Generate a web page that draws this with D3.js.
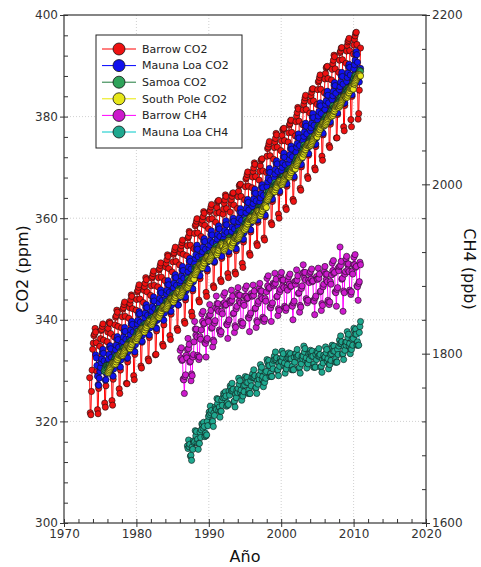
<!DOCTYPE html>
<html>
<head>
<meta charset="utf-8">
<script src="https://cdnjs.cloudflare.com/ajax/libs/d3/7.8.5/d3.min.js"></script>
<style>
  body { margin: 0; background: #fff; }
  text { font-family: "DejaVu Sans", sans-serif; }
</style>
</head>
<body>
<svg id="chart" width="481" height="567"></svg>
<script>
// Series mensuales. Cada "...Start" es [año, mes] de la primera muestra.
const barrowCO2Start = [1973, 7];
const barrowCO2 = [
  328.6, 321.7, 321.3, 325.9, 330.1, 334.2,
  335.4, 336.9, 337.2, 338.3, 337.6, 335.5, 329.8, 322.3, 321.5, 326.5, 331.2, 334.8,
  336.3, 337.9, 338.1, 338.7, 339.2, 336.0, 330.1, 323.6, 322.8, 327.0, 331.6, 335.7,
  337.6, 338.3, 339.4, 339.6, 339.3, 337.3, 331.5, 324.1, 323.2, 328.3, 332.9, 336.6,
  339.0, 340.5, 340.8, 341.9, 341.5, 338.7, 332.8, 326.4, 325.5, 330.1, 334.8, 338.4,
  340.6, 342.1, 342.4, 343.0, 343.5, 340.7, 334.0, 327.5, 327.4, 331.7, 335.9, 340.3,
  342.4, 343.2, 343.9, 344.9, 344.6, 342.2, 336.4, 329.0, 328.2, 333.2, 337.4, 341.9,
  344.0, 345.5, 345.8, 346.4, 346.9, 344.1, 337.4, 330.9, 330.5, 335.6, 339.3, 343.4,
  345.8, 346.5, 347.2, 348.3, 347.9, 345.5, 339.6, 332.3, 331.9, 336.5, 341.1, 344.8,
  346.7, 348.2, 348.5, 349.1, 349.6, 346.8, 340.5, 333.1, 333.2, 337.8, 342.0, 346.5,
  348.3, 349.8, 350.1, 350.7, 351.2, 348.4, 342.6, 335.2, 334.8, 339.0, 343.6, 347.7,
  350.4, 351.1, 351.8, 352.8, 352.5, 350.1, 343.8, 336.9, 336.1, 341.1, 345.7, 349.4,
  351.4, 352.9, 353.2, 353.8, 354.3, 351.5, 345.2, 338.3, 337.9, 342.9, 346.7, 350.8,
  353.2, 353.9, 354.6, 355.2, 355.7, 352.9, 346.6, 339.7, 339.3, 343.9, 348.1, 352.6,
  354.6, 356.1, 356.4, 357.4, 357.1, 354.7, 348.9, 341.5, 340.7, 345.7, 349.9, 354.0,
  357.0, 358.5, 358.8, 359.4, 359.9, 357.1, 350.8, 343.9, 343.5, 348.1, 352.7, 356.4,
  358.9, 359.6, 360.3, 361.3, 361.0, 358.6, 352.3, 345.4, 344.6, 349.6, 353.8, 357.9,
  359.8, 361.3, 361.6, 362.2, 362.7, 359.9, 353.6, 346.7, 346.3, 351.3, 355.1, 359.2,
  361.0, 362.1, 363.2, 363.4, 363.5, 361.1, 355.2, 347.9, 347.5, 352.1, 356.3, 360.8,
  361.8, 362.9, 363.6, 364.6, 364.3, 361.9, 355.6, 349.1, 348.3, 352.9, 357.1, 361.2,
  362.9, 363.6, 364.3, 364.9, 365.0, 362.6, 356.3, 349.4, 349.0, 353.6, 358.2, 361.9,
  364.2, 365.3, 366.4, 366.6, 366.7, 364.3, 358.0, 351.1, 350.3, 355.3, 359.5, 363.6,
  366.2, 367.7, 368.0, 368.6, 369.1, 366.3, 360.0, 353.1, 352.7, 357.3, 361.5, 366.0,
  368.1, 369.2, 369.9, 370.9, 370.6, 368.2, 361.9, 355.0, 354.6, 359.2, 363.8, 367.5,
  369.2, 370.3, 371.4, 371.6, 371.7, 369.3, 363.0, 356.1, 355.7, 360.3, 364.5, 369.0,
  372.2, 373.7, 374.0, 374.6, 375.1, 372.3, 366.0, 359.1, 358.7, 363.3, 367.5, 371.6,
  373.9, 375.0, 375.7, 376.7, 376.4, 374.0, 367.7, 360.8, 360.0, 365.0, 369.2, 373.3,
  375.2, 376.3, 377.4, 377.6, 377.7, 375.3, 369.0, 362.1, 361.7, 366.3, 370.5, 375.0,
  376.8, 378.3, 378.6, 379.2, 379.3, 376.9, 370.6, 363.7, 363.3, 367.9, 372.1, 376.2,
  379.0, 380.1, 380.8, 381.8, 381.5, 379.1, 372.8, 365.9, 365.5, 370.1, 374.3, 378.4,
  381.3, 382.4, 383.1, 383.7, 384.2, 381.4, 375.1, 368.2, 367.8, 372.4, 376.6, 380.7,
  383.0, 384.1, 384.8, 385.4, 385.5, 383.1, 376.8, 369.9, 369.5, 374.1, 378.3, 382.4,
  385.3, 386.8, 387.1, 387.7, 388.2, 385.4, 379.1, 372.2, 371.4, 376.4, 380.6, 384.7,
  387.4, 388.5, 389.6, 389.8, 389.9, 387.5, 381.6, 374.3, 373.9, 378.5, 382.7, 387.2,
  389.3, 390.4, 391.1, 392.1, 391.8, 389.4, 383.1, 375.8, 375.8, 380.4, 385.0, 388.7,
  391.1, 392.6, 392.9, 393.5, 393.6, 391.2, 384.9, 378.0, 377.2, 382.2, 386.4, 390.5,
  392.9, 394.0, 394.7, 395.0, 395.4, 393.0, 386.7, 379.4, 378.0, 384.0, 388.2, 392.3,
  394.1, 395.2, 395.9, 396.5, 396.6, 394.2, 387.9, 379.5, 380.6, 385.2, 389.4, 393.5
];

const maunaLoaCO2Start = [1974, 5];
const maunaLoaCO2 = [
  333.1, 332.5, 331.0, 328.9, 327.2, 327.1, 328.5, 329.8,
  330.6, 331.6, 332.3, 333.5, 334.2, 333.4, 331.9, 329.8, 328.1, 328.2, 329.4, 330.7,
  331.7, 332.3, 333.2, 334.6, 334.9, 334.3, 332.6, 330.7, 329.0, 328.9, 330.3, 331.6,
  333.3, 334.1, 335.0, 336.2, 336.7, 336.1, 334.6, 332.5, 330.8, 330.7, 332.1, 333.4,
  335.1, 335.7, 336.6, 337.8, 338.5, 337.7, 336.2, 334.1, 332.4, 332.5, 333.7, 335.0,
  336.3, 337.1, 338.0, 339.2, 339.7, 339.1, 337.6, 335.5, 333.8, 333.7, 335.1, 336.4,
  338.2, 339.2, 339.9, 341.1, 341.6, 341.2, 339.5, 337.4, 335.7, 335.8, 337.0, 338.3,
  339.6, 340.4, 341.3, 342.5, 343.0, 342.4, 340.9, 338.8, 337.1, 337.0, 338.4, 339.7,
  341.1, 341.7, 342.6, 343.8, 344.5, 343.7, 342.2, 340.1, 338.4, 338.3, 339.9, 341.0,
  342.5, 343.3, 344.2, 345.4, 345.9, 345.3, 343.8, 341.7, 340.0, 339.9, 341.3, 342.6,
  344.1, 345.1, 345.8, 347.0, 347.7, 346.9, 345.4, 343.3, 341.6, 341.7, 342.9, 344.2,
  345.5, 346.3, 347.2, 348.4, 348.9, 348.3, 346.8, 344.7, 343.0, 342.9, 344.3, 345.6,
  347.1, 347.7, 348.6, 349.8, 350.5, 349.7, 348.2, 346.1, 344.4, 344.5, 345.7, 347.0,
  348.7, 349.5, 350.4, 351.6, 352.1, 351.5, 350.0, 347.9, 346.2, 346.1, 347.5, 348.8,
  351.1, 352.1, 352.8, 354.0, 354.7, 353.9, 352.4, 350.3, 348.6, 348.7, 349.9, 351.2,
  352.6, 353.4, 354.3, 355.5, 356.0, 355.4, 353.9, 351.8, 350.1, 350.0, 351.4, 352.7,
  354.1, 354.7, 355.6, 356.8, 357.5, 356.7, 355.2, 353.1, 351.4, 351.5, 352.7, 354.0,
  355.1, 355.9, 356.8, 358.0, 358.5, 357.9, 356.4, 354.3, 352.6, 352.5, 353.9, 355.2,
  355.9, 356.9, 357.6, 358.8, 359.5, 358.7, 357.2, 355.1, 353.4, 353.5, 354.7, 356.0,
  356.6, 357.4, 358.3, 359.5, 360.0, 359.4, 357.9, 355.8, 354.1, 354.0, 355.4, 356.7,
  358.3, 359.3, 360.0, 361.2, 361.9, 361.1, 359.6, 357.5, 355.8, 355.9, 357.1, 358.4,
  360.3, 361.1, 362.0, 363.2, 363.7, 363.1, 361.6, 359.5, 357.8, 357.7, 359.1, 360.4,
  362.3, 362.9, 363.8, 365.0, 365.7, 364.9, 363.4, 361.3, 359.6, 359.7, 360.9, 362.2,
  363.2, 364.0, 364.9, 366.1, 366.6, 366.0, 364.5, 362.4, 360.7, 360.6, 362.0, 363.3,
  366.2, 367.2, 367.9, 369.1, 369.8, 369.0, 367.5, 365.4, 363.7, 363.8, 365.0, 366.3,
  367.9, 368.7, 369.6, 370.8, 371.3, 370.7, 369.2, 367.1, 365.4, 365.3, 366.7, 368.0,
  369.4, 370.0, 370.9, 372.1, 372.8, 372.0, 370.5, 368.4, 366.7, 366.8, 368.0, 369.3,
  370.8, 371.6, 372.5, 373.7, 374.2, 373.6, 372.1, 370.0, 368.3, 368.2, 369.6, 370.9,
  373.0, 374.0, 374.7, 375.9, 376.6, 375.8, 374.3, 372.2, 370.5, 370.6, 371.8, 373.1,
  375.3, 376.1, 377.0, 378.2, 378.7, 378.1, 376.6, 374.5, 372.8, 372.7, 374.1, 375.4,
  377.2, 377.8, 378.7, 379.9, 380.6, 379.8, 378.3, 376.2, 374.5, 374.6, 375.8, 377.1,
  379.3, 380.1, 381.0, 382.2, 382.7, 382.1, 380.6, 378.5, 376.8, 376.7, 378.1, 379.4,
  381.4, 382.4, 383.1, 384.3, 385.0, 384.2, 382.7, 380.6, 378.9, 379.0, 380.2, 381.5,
  383.3, 384.1, 385.0, 386.2, 386.7, 386.1, 384.6, 382.5, 380.8, 380.7, 382.1, 383.4,
  385.3, 385.9, 386.8, 388.0, 388.7, 387.9, 386.4, 384.3, 382.6, 382.7, 383.9, 385.2,
  386.9, 387.7, 388.6, 389.8, 390.3, 389.7, 388.2, 386.1, 384.4, 384.3, 385.7, 387.0,
  389.4, 390.2, 391.1, 392.3, 392.8, 392.2, 390.7, 388.6, 386.9, 386.8, 388.2, 389.5
];

const samoaCO2Start = [1975, 7];
const samoaCO2 = [
  329.9, 330.2, 330.6, 330.9, 331.0, 331.0,
  330.6, 331.0, 330.8, 331.1, 330.7, 330.4, 330.8, 331.3, 331.5, 331.6, 331.9, 332.1,
  332.4, 332.8, 332.6, 332.9, 332.5, 332.2, 332.6, 333.1, 333.3, 333.4, 333.9, 333.7,
  334.0, 334.4, 334.2, 334.5, 334.1, 333.8, 334.2, 334.7, 334.9, 335.0, 335.5, 335.3,
  335.4, 335.8, 335.6, 335.9, 335.5, 335.2, 335.6, 336.1, 336.3, 336.4, 336.9, 336.7,
  337.3, 337.7, 337.5, 337.8, 337.4, 337.1, 337.5, 338.0, 338.2, 338.3, 338.8, 338.6,
  338.9, 339.1, 338.7, 339.2, 339.0, 338.5, 338.9, 339.2, 339.6, 339.9, 340.2, 340.0,
  340.0, 340.4, 340.2, 340.5, 340.1, 339.8, 340.2, 340.7, 340.9, 341.0, 341.5, 341.3,
  341.6, 342.2, 341.8, 341.9, 341.7, 341.6, 341.8, 342.3, 342.7, 342.6, 342.9, 342.9,
  343.2, 343.6, 343.4, 343.7, 343.3, 343.0, 343.4, 343.9, 344.1, 344.2, 344.7, 344.5,
  344.8, 345.0, 344.6, 345.1, 344.9, 344.4, 344.8, 345.1, 345.5, 345.8, 346.1, 345.9,
  345.7, 346.1, 345.9, 346.2, 345.8, 345.5, 345.9, 346.4, 346.6, 346.7, 347.2, 347.0,
  347.5, 348.1, 347.7, 347.8, 347.6, 347.5, 347.7, 348.2, 348.6, 348.5, 348.8, 348.8,
  349.9, 350.3, 350.1, 350.4, 350.0, 349.7, 350.1, 350.6, 350.8, 350.9, 351.4, 351.2,
  351.6, 351.8, 351.4, 351.9, 351.7, 351.2, 351.6, 351.9, 352.3, 352.6, 352.9, 352.7,
  352.7, 353.1, 352.9, 353.2, 352.8, 352.5, 352.9, 353.4, 353.6, 353.7, 354.2, 354.0,
  353.9, 354.5, 354.1, 354.2, 354.0, 353.9, 354.1, 354.6, 355.0, 354.9, 355.2, 355.2,
  354.7, 355.1, 354.9, 355.2, 354.8, 354.5, 354.9, 355.4, 355.6, 355.7, 356.2, 356.0,
  355.6, 355.8, 355.4, 355.9, 355.7, 355.2, 355.6, 355.9, 356.3, 356.6, 356.9, 356.7,
  357.1, 357.5, 357.3, 357.6, 357.2, 356.9, 357.3, 357.8, 358.0, 358.1, 358.6, 358.4,
  359.1, 359.7, 359.3, 359.4, 359.2, 359.1, 359.3, 359.8, 360.2, 360.1, 360.4, 360.4,
  360.6, 361.0, 360.8, 361.1, 360.7, 360.4, 360.8, 361.3, 361.5, 361.6, 362.1, 361.9,
  361.9, 362.1, 361.7, 362.2, 362.0, 361.5, 361.9, 362.2, 362.6, 362.9, 363.2, 363.0,
  364.7, 365.1, 364.9, 365.2, 364.8, 364.5, 364.9, 365.4, 365.6, 365.7, 366.2, 366.0,
  366.4, 367.0, 366.6, 366.7, 366.5, 366.4, 366.6, 367.1, 367.5, 367.4, 367.7, 367.7,
  367.7, 368.1, 367.9, 368.2, 367.8, 367.5, 367.9, 368.4, 368.6, 368.7, 369.2, 369.0,
  369.5, 369.7, 369.3, 369.8, 369.6, 369.1, 369.5, 369.8, 370.2, 370.5, 370.8, 370.6,
  371.5, 371.9, 371.7, 372.0, 371.6, 371.3, 371.7, 372.2, 372.4, 372.5, 373.0, 372.8,
  373.8, 374.4, 374.0, 374.1, 373.9, 373.8, 374.0, 374.5, 374.9, 374.8, 375.1, 375.1,
  375.5, 375.9, 375.7, 376.0, 375.6, 375.3, 375.7, 376.2, 376.4, 376.5, 377.0, 376.8,
  378.0, 378.2, 377.8, 378.3, 378.1, 377.6, 378.0, 378.3, 378.7, 379.0, 379.3, 379.1,
  379.6, 380.0, 379.8, 380.1, 379.7, 379.4, 379.8, 380.3, 380.5, 380.6, 381.1, 380.9,
  381.5, 382.1, 381.7, 381.8, 381.6, 381.5, 381.7, 382.2, 382.6, 382.5, 382.8, 382.8,
  383.3, 383.7, 383.5, 383.8, 383.4, 383.1, 383.5, 384.0, 384.2, 384.3, 384.8, 384.6,
  385.3, 385.5, 385.1, 385.6, 385.4, 384.9, 385.3, 385.6, 386.0, 386.3, 386.6, 386.4,
  387.6, 388.0, 387.8, 388.1, 387.7, 387.4, 387.8, 388.3, 388.5, 388.6, 389.1, 388.9
];

const southPoleCO2Start = [1976, 1];
const southPoleCO2 = [
  329.6, 329.6, 329.9, 330.2, 330.5, 330.8, 331.1, 331.3, 331.5, 331.5, 331.4, 331.2,
  331.5, 331.3, 331.7, 332.1, 332.2, 332.6, 333.0, 333.1, 333.2, 333.4, 333.2, 332.9,
  333.0, 333.0, 333.3, 333.6, 333.9, 334.2, 334.5, 334.7, 334.9, 334.9, 334.8, 334.6,
  334.5, 334.3, 334.7, 335.1, 335.2, 335.6, 336.0, 336.1, 336.2, 336.4, 336.2, 335.9,
  336.3, 336.3, 336.6, 336.9, 337.2, 337.5, 337.8, 338.0, 338.2, 338.2, 338.1, 337.9,
  337.8, 337.6, 338.0, 338.4, 338.5, 338.9, 339.3, 339.4, 339.5, 339.7, 339.5, 339.2,
  339.0, 339.0, 339.3, 339.6, 339.9, 340.2, 340.5, 340.7, 340.9, 340.9, 340.8, 340.6,
  340.7, 340.5, 340.9, 341.3, 341.4, 341.8, 342.2, 342.3, 342.4, 342.6, 342.4, 342.1,
  342.2, 342.2, 342.5, 342.8, 343.1, 343.4, 343.7, 343.9, 344.1, 344.1, 344.0, 343.8,
  343.7, 343.5, 343.9, 344.3, 344.4, 344.8, 345.2, 345.3, 345.4, 345.6, 345.4, 345.1,
  344.7, 344.7, 345.0, 345.3, 345.6, 345.9, 346.2, 346.4, 346.6, 346.6, 346.5, 346.3,
  346.6, 346.4, 346.8, 347.2, 347.3, 347.7, 348.1, 348.2, 348.3, 348.5, 348.3, 348.0,
  348.9, 348.9, 349.2, 349.5, 349.8, 350.1, 350.4, 350.6, 350.8, 350.8, 350.7, 350.5,
  350.5, 350.3, 350.7, 351.1, 351.2, 351.6, 352.0, 352.1, 352.2, 352.4, 352.2, 351.9,
  351.7, 351.7, 352.0, 352.3, 352.6, 352.9, 353.2, 353.4, 353.6, 353.6, 353.5, 353.3,
  353.0, 352.8, 353.2, 353.6, 353.7, 354.1, 354.5, 354.6, 354.7, 354.9, 354.7, 354.4,
  353.7, 353.7, 354.0, 354.3, 354.6, 354.9, 355.2, 355.4, 355.6, 355.6, 355.5, 355.3,
  354.5, 354.3, 354.7, 355.1, 355.2, 355.6, 356.0, 356.1, 356.2, 356.4, 356.2, 355.9,
  356.1, 356.1, 356.4, 356.7, 357.0, 357.3, 357.6, 357.8, 358.0, 358.0, 357.9, 357.7,
  358.2, 358.0, 358.4, 358.8, 358.9, 359.3, 359.7, 359.8, 359.9, 360.1, 359.9, 359.6,
  359.5, 359.5, 359.8, 360.1, 360.4, 360.7, 361.0, 361.2, 361.4, 361.4, 361.3, 361.1,
  360.7, 360.5, 360.9, 361.3, 361.4, 361.8, 362.2, 362.3, 362.4, 362.6, 362.4, 362.1,
  363.6, 363.6, 363.9, 364.2, 364.5, 364.8, 365.1, 365.3, 365.5, 365.5, 365.4, 365.2,
  365.4, 365.2, 365.6, 366.0, 366.1, 366.5, 366.9, 367.0, 367.1, 367.3, 367.1, 366.8,
  366.6, 366.6, 366.9, 367.2, 367.5, 367.8, 368.1, 368.3, 368.5, 368.5, 368.4, 368.2,
  368.3, 368.1, 368.5, 368.9, 369.0, 369.4, 369.8, 369.9, 370.0, 370.2, 370.0, 369.7,
  370.4, 370.4, 370.7, 371.0, 371.3, 371.6, 371.9, 372.1, 372.3, 372.3, 372.2, 372.0,
  372.8, 372.6, 373.0, 373.4, 373.5, 373.9, 374.3, 374.4, 374.5, 374.7, 374.5, 374.2,
  374.4, 374.4, 374.7, 375.0, 375.3, 375.6, 375.9, 376.1, 376.3, 376.3, 376.2, 376.0,
  376.8, 376.6, 377.0, 377.4, 377.5, 377.9, 378.3, 378.4, 378.5, 378.7, 378.5, 378.2,
  378.4, 378.4, 378.7, 379.0, 379.3, 379.6, 379.9, 380.1, 380.3, 380.3, 380.2, 380.0,
  380.4, 380.2, 380.6, 381.0, 381.1, 381.5, 381.9, 382.0, 382.1, 382.3, 382.1, 381.8,
  382.1, 382.1, 382.4, 382.7, 383.0, 383.3, 383.6, 383.8, 384.0, 384.0, 383.9, 383.7,
  384.0, 383.8, 384.2, 384.6, 384.7, 385.1, 385.5, 385.6, 385.7, 385.9, 385.7, 385.4,
  386.4, 386.4, 386.7, 387.0, 387.3, 387.6, 387.9, 388.1, 388.3, 388.3, 388.2, 388.0
];

const barrowCH4Start = [1986, 1];
const barrowCH4 = [
  1804, 1795, 1807, 1792, 1793, 1770, 1769, 1753, 1773, 1775, 1798, 1795,
  1805, 1818, 1806, 1811, 1790, 1791, 1768, 1776, 1774, 1796, 1799, 1814,
  1838, 1829, 1822, 1829, 1820, 1798, 1796, 1793, 1796, 1820, 1817, 1828,
  1847, 1838, 1850, 1835, 1836, 1813, 1812, 1796, 1816, 1818, 1841, 1838,
  1845, 1858, 1846, 1851, 1830, 1831, 1808, 1816, 1814, 1836, 1839, 1854,
  1868, 1859, 1852, 1859, 1850, 1828, 1826, 1823, 1826, 1850, 1847, 1858,
  1869, 1860, 1872, 1857, 1858, 1835, 1834, 1818, 1838, 1840, 1863, 1860,
  1862, 1875, 1863, 1868, 1847, 1848, 1825, 1833, 1831, 1853, 1856, 1871,
  1878, 1869, 1862, 1869, 1860, 1838, 1836, 1833, 1836, 1860, 1857, 1868,
  1877, 1868, 1880, 1865, 1866, 1843, 1842, 1826, 1846, 1848, 1871, 1868,
  1868, 1881, 1869, 1874, 1853, 1854, 1831, 1839, 1837, 1859, 1862, 1877,
  1883, 1874, 1867, 1874, 1865, 1843, 1841, 1838, 1841, 1865, 1862, 1873,
  1889, 1880, 1892, 1877, 1878, 1855, 1854, 1838, 1858, 1860, 1883, 1880,
  1882, 1895, 1883, 1888, 1867, 1868, 1845, 1853, 1851, 1873, 1876, 1891,
  1896, 1887, 1880, 1887, 1878, 1856, 1854, 1851, 1854, 1878, 1875, 1886,
  1891, 1882, 1894, 1879, 1880, 1857, 1856, 1840, 1860, 1862, 1885, 1882,
  1886, 1899, 1887, 1892, 1871, 1872, 1849, 1857, 1855, 1877, 1880, 1895,
  1905, 1896, 1889, 1896, 1887, 1865, 1863, 1860, 1863, 1887, 1884, 1895,
  1897, 1888, 1900, 1885, 1886, 1863, 1862, 1846, 1866, 1868, 1891, 1888,
  1888, 1901, 1889, 1894, 1873, 1874, 1851, 1859, 1857, 1879, 1882, 1897,
  1903, 1894, 1887, 1894, 1885, 1863, 1861, 1858, 1861, 1885, 1882, 1893,
  1907, 1898, 1910, 1895, 1896, 1873, 1872, 1856, 1876, 1878, 1901, 1898,
  1903, 1926, 1904, 1909, 1888, 1889, 1850, 1874, 1872, 1894, 1897, 1912,
  1915, 1906, 1899, 1906, 1897, 1875, 1873, 1870, 1873, 1897, 1894, 1905,
  1914, 1905, 1917, 1902, 1903, 1880, 1879, 1863, 1883, 1885, 1908, 1905
];

const maunaLoaCH4Start = [1987, 1];
const maunaLoaCH4 = [
  1691, 1688, 1698, 1690, 1693, 1679, 1680, 1674, 1690, 1687, 1697, 1695,
  1696, 1709, 1703, 1708, 1695, 1699, 1687, 1694, 1694, 1707, 1701, 1710,
  1717, 1715, 1712, 1719, 1714, 1702, 1706, 1703, 1704, 1720, 1715, 1726,
  1731, 1728, 1738, 1730, 1733, 1719, 1720, 1714, 1730, 1727, 1737, 1735,
  1734, 1747, 1741, 1746, 1733, 1737, 1725, 1732, 1732, 1745, 1739, 1748,
  1753, 1751, 1748, 1755, 1750, 1738, 1742, 1739, 1740, 1756, 1751, 1762,
  1760, 1756, 1765, 1756, 1758, 1743, 1744, 1737, 1752, 1748, 1757, 1754,
  1759, 1771, 1764, 1768, 1754, 1757, 1745, 1751, 1750, 1762, 1755, 1763,
  1773, 1770, 1766, 1772, 1766, 1753, 1757, 1753, 1753, 1768, 1762, 1772,
  1776, 1772, 1781, 1772, 1774, 1759, 1760, 1753, 1768, 1764, 1773, 1770,
  1775, 1787, 1780, 1784, 1770, 1773, 1761, 1767, 1766, 1778, 1771, 1779,
  1793, 1790, 1786, 1792, 1786, 1773, 1777, 1773, 1773, 1788, 1782, 1792,
  1797, 1793, 1802, 1793, 1795, 1780, 1781, 1774, 1789, 1785, 1794, 1791,
  1791, 1803, 1796, 1800, 1786, 1789, 1777, 1783, 1782, 1794, 1787, 1795,
  1801, 1798, 1794, 1800, 1794, 1781, 1785, 1781, 1781, 1796, 1790, 1800,
  1800, 1796, 1805, 1796, 1798, 1783, 1784, 1777, 1792, 1788, 1797, 1794,
  1797, 1809, 1802, 1806, 1792, 1795, 1783, 1789, 1788, 1800, 1793, 1801,
  1804, 1801, 1797, 1803, 1797, 1784, 1788, 1784, 1784, 1799, 1793, 1803,
  1801, 1797, 1806, 1797, 1799, 1784, 1785, 1778, 1793, 1789, 1798, 1795,
  1796, 1808, 1801, 1805, 1791, 1794, 1782, 1788, 1787, 1799, 1792, 1800,
  1810, 1807, 1803, 1809, 1803, 1790, 1794, 1790, 1790, 1805, 1799, 1809,
  1816, 1812, 1821, 1812, 1814, 1799, 1800, 1793, 1808, 1804, 1813, 1810,
  1814, 1826, 1819, 1823, 1809, 1812, 1800, 1806, 1805, 1817, 1810, 1818,
  1830, 1827, 1823, 1829, 1823, 1810, 1814, 1810, 1810, 1825, 1832, 1838
];

const seriesNames = ["Barrow CO2", "Mauna Loa CO2", "Samoa CO2", "South Pole CO2", "Barrow CH4", "Mauna Loa CH4"];
const lineColors = ["#ff0000", "#0000ff", "#1e7a3c", "#e8e800", "#ff00ff", "#00c8c8"];
const markerColors = ["#ee1111", "#1111ee", "#2ea35a", "#e6e619", "#cc1acc", "#1fa88f"];

const yearTicks = [1970, 1980, 1990, 2000, 2010, 2020];
const co2Ticks = [300, 320, 340, 360, 380, 400];
const ch4Ticks = [1600, 1800, 2000, 2200];

// ---- lienzo ----
const margin = { top: 15, right: 55, bottom: 44, left: 64 };
const svg = d3.select("#chart");
const width = 481 - margin.left - margin.right;   // 362
const height = 567 - margin.top - margin.bottom;  // 508
const g = svg.append("g").attr("transform", `translate(${margin.left},${margin.top})`);

const x = d3.scaleLinear().domain([1970, 2020]).range([0, width]);
const yCO2 = d3.scaleLinear().domain([300, 400]).range([height, 0]);
const yCH4 = d3.scaleLinear().domain([1600, 2200]).range([height, 0]);

// rejilla punteada
g.append("g").selectAll("line").data(yearTicks.slice(1, -1)).join("line")
  .attr("x1", d => x(d)).attr("x2", d => x(d)).attr("y1", 0).attr("y2", height)
  .attr("stroke", "#c4c4c4").attr("stroke-width", 0.8).attr("stroke-dasharray", "1,2");
g.append("g").selectAll("line").data(co2Ticks.slice(1, -1)).join("line")
  .attr("x1", 0).attr("x2", width).attr("y1", d => yCO2(d)).attr("y2", d => yCO2(d))
  .attr("stroke", "#c4c4c4").attr("stroke-width", 0.8).attr("stroke-dasharray", "1,2");

// series
const series = [
  { data: barrowCO2, start: barrowCO2Start, y: yCO2 },
  { data: maunaLoaCO2, start: maunaLoaCO2Start, y: yCO2 },
  { data: samoaCO2, start: samoaCO2Start, y: yCO2 },
  { data: southPoleCO2, start: southPoleCO2Start, y: yCO2 },
  { data: barrowCH4, start: barrowCH4Start, y: yCH4 },
  { data: maunaLoaCH4, start: maunaLoaCH4Start, y: yCH4 }
];

series.forEach((s, k) => {
  const pts = s.data.map((v, i) => [s.start[0] + (s.start[1] - 1 + i + 0.5) / 12, v]);
  const line = d3.line().x(d => x(d[0])).y(d => s.y(d[1]));
  const sg = g.append("g").attr("class", "serie");
  sg.append("path").datum(pts)
    .attr("d", line)
    .attr("fill", "none")
    .attr("stroke", lineColors[k])
    .attr("stroke-width", 1);
  sg.selectAll("circle").data(pts).join("circle")
    .attr("cx", d => x(d[0]))
    .attr("cy", d => s.y(d[1]))
    .attr("r", 3.1)
    .attr("fill", markerColors[k])
    .attr("stroke", "#111")
    .attr("stroke-width", 0.6);
});

// marco
g.append("rect").attr("width", width).attr("height", height)
  .attr("fill", "none").attr("stroke", "#444").attr("stroke-width", 1.3);

// ejes
function styleAxis(sel) {
  sel.select(".domain").remove();
  sel.selectAll(".tick line").attr("stroke", "#333").attr("stroke-width", 1);
  sel.selectAll(".tick text").attr("fill", "#333").style("font-size", "12px")
    .style("font-family", "DejaVu Sans, sans-serif");
}

const minorYears = d3.range(1972, 2020, 2).filter(d => d % 10 !== 0);
const minorCO2 = d3.range(304, 400, 4).filter(d => d % 20 !== 0);
const minorCH4 = d3.range(1640, 2200, 40).filter(d => d % 200 !== 0);

// eje X
const xAxis = g.append("g").attr("transform", `translate(0,${height})`)
  .call(d3.axisBottom(x).tickValues(yearTicks).tickFormat(d3.format("d")).tickSize(4).tickPadding(2));
styleAxis(xAxis);
xAxis.selectAll(".tick line").attr("y1", -4);
g.append("g").attr("transform", `translate(0,${height})`)
  .call(d3.axisBottom(x).tickValues(minorYears).tickFormat("").tickSize(-4))
  .call(styleAxis);

// eje Y izquierdo (CO2)
const yAxisL = g.append("g")
  .call(d3.axisLeft(yCO2).tickValues(co2Ticks).tickFormat(d3.format("d")).tickSize(4).tickPadding(2));
styleAxis(yAxisL);
yAxisL.selectAll(".tick line").attr("x1", 4);
g.append("g").call(d3.axisLeft(yCO2).tickValues(minorCO2).tickFormat("").tickSize(-4))
  .call(styleAxis);

// eje Y derecho (CH4)
const yAxisR = g.append("g").attr("transform", `translate(${width},0)`)
  .call(d3.axisRight(yCH4).tickValues(ch4Ticks).tickFormat(d3.format("d")).tickSize(4).tickPadding(2));
styleAxis(yAxisR);
yAxisR.selectAll(".tick line").attr("x1", -4);
g.append("g").attr("transform", `translate(${width},0)`)
  .call(d3.axisRight(yCH4).tickValues(minorCH4).tickFormat("").tickSize(-4))
  .call(styleAxis);

// títulos de ejes
svg.append("text").attr("x", margin.left + width / 2).attr("y", 562)
  .attr("text-anchor", "middle").style("font-size", "16px").attr("fill", "#111").text("Año");
svg.append("text").attr("transform", `translate(28,${margin.top + height / 2}) rotate(-90)`)
  .attr("text-anchor", "middle").style("font-size", "16px").attr("fill", "#111").text("CO2 (ppm)");
svg.append("text").attr("transform", `translate(464,${margin.top + height / 2}) rotate(90)`)
  .attr("text-anchor", "middle").style("font-size", "16px").attr("fill", "#111").text("CH4 (ppb)");

// leyenda
const legend = svg.append("g").attr("transform", "translate(96,35)");
legend.append("rect").attr("width", 146).attr("height", 113)
  .attr("fill", "#fff").attr("stroke", "#222").attr("stroke-width", 1);
seriesNames.forEach((name, k) => {
  const ly = 14 + k * 16.6;
  legend.append("line").attr("x1", 6).attr("x2", 40).attr("y1", ly).attr("y2", ly)
    .attr("stroke", lineColors[k]).attr("stroke-width", 1);
  legend.append("circle").attr("cx", 23).attr("cy", ly).attr("r", 6)
    .attr("fill", markerColors[k]).attr("stroke", "#111").attr("stroke-width", 0.8);
  legend.append("text").attr("x", 46).attr("y", ly).attr("dy", "0.35em")
    .style("font-size", "11px").attr("fill", "#222").text(name);
});
</script>
</body>
</html>
